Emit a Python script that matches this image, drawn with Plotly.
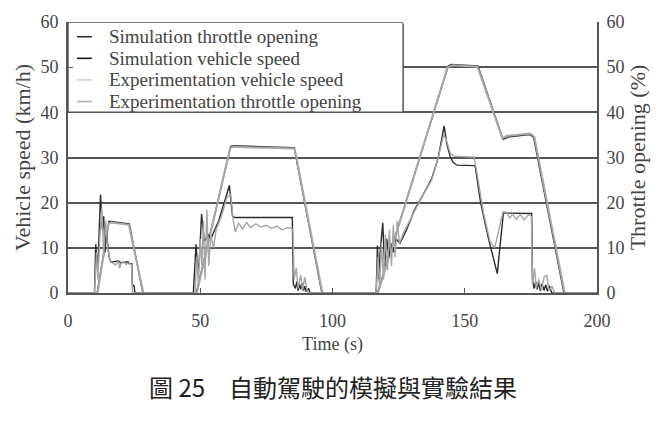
import plotly.graph_objects as go

# ---------------- data ----------------
sim_speed_t = [0, 11, 15.5, 23.2, 28.3, 48.5, 61.5, 62.5, 85.5, 96, 117, 143.8, 145, 155, 164.5,
               167, 174.5, 176, 187.5, 200]
sim_speed_v = [0, 0, 15.9, 15.3, 0, 0, 32.4, 32.6, 32.2, 0, 0, 50.3, 50.6, 50.3, 34,
               34.6, 35.1, 34.5, 0, 0]

exp_speed_t = [0, 11.2, 15.3, 16.5, 23.0, 28.5, 48.7, 61.3, 62.6, 70, 85.7, 96.2, 117.2, 143.5,
               145.5, 154.8, 164.2, 166, 174.8, 176.3, 187.8, 200]
exp_speed_v = [0, 0, 15.3, 15.6, 15.1, 0, 0, 32.1, 32.4, 32.2, 32.0, 0, 0, 50.0,
               50.4, 50.1, 34.3, 34.8, 35.3, 34.6, 0, 0]

sim_thr_t = [0, 10, 10.5, 11, 11.5, 12.3, 13, 13.5, 14, 14.5, 15.5, 16.3, 19, 20, 22.8, 23, 24.1,
             24.3, 25.0, 25.3, 47.4, 48.4, 49.2, 49.8, 50.5, 51.5, 52.2, 53, 54, 57, 61, 62.2,
             63, 84.8, 85.2, 86, 86.5, 87, 87.5, 88, 88.5, 89, 89.5, 90, 91, 91.5, 116.5, 117,
             117.5, 118, 119, 119.7, 120.5, 121.3, 122, 123, 124, 125.5, 128, 131, 134, 137.5,
             140, 142.2, 143.2, 144.4, 145.5, 147, 153.9, 154.5, 156, 159, 162.3, 164.6, 175.3,
             175.6, 176.2, 176.8, 177.3, 178, 178.6, 179.2, 180, 180.6, 181.3, 182, 182.9, 200]
sim_thr_v = [0, 0, 10.8, 6, 9, 21.8, 14, 17, 9, 14, 8, 6.8, 7.1, 6.7, 6.9, 6.5, 6.5,
             1.8, 1.6, 0, 0, 10.8, 4, 9, 17.5, 11.5, 12, 13, 12, 16, 23.8, 17,
             16.7, 16.7, 2, 1, 2.5, 0.5, 2, 0.8, 2.2, 0.5, 1.5, 0.3, 1.0, 0, 0, 10.5,
             3, 9, 15.5, 6, 12, 8, 11, 9, 12, 11, 14, 18.4, 21.5, 25.3,
             30, 37, 33, 30.4, 29, 28.3, 28.2, 26, 20, 12, 4.3, 17.7, 17.6,
             3, 1, 2.5, 0.8, 2.2, 0.5, 2, 0.6, 1.8, 0.4, 1.6, 0, 0]

exp_thr_t = [0, 10, 10.8, 11.3, 12, 12.8, 13.5, 14.2, 15, 15.8, 16.5, 18, 19, 19.5, 20, 21, 22,
             23, 24, 24.4, 48, 48.7, 49.3, 50, 50.6, 51.2, 51.8, 52.5, 53.2, 54, 55, 56, 58, 60,
             61.5, 62.5, 63.3, 64.5, 66, 67.5, 69, 71, 73, 75, 77, 79, 81, 83, 85, 85.5, 86.3, 87,
             88, 88.7, 89.5, 90.5, 91, 116.5, 117.2, 117.8, 118.5, 119.3, 120, 120.8, 121.5,
             122.3, 123, 123.7, 124.5, 125.3, 127, 130, 134, 137.5, 140, 142, 143, 144.5, 146,
             153.5, 154.5, 157, 159.5, 161.3, 163, 164.5, 166, 167, 168, 169.5, 171, 172.5, 174,
             175.2, 175.6, 176.4, 177, 178, 179, 180, 181, 181.8, 183, 184, 200]
exp_thr_v = [0, 0, 9, 3, 12, 19, 8, 16, 10, 7.5, 6.8, 6.2, 7, 5.5, 6.5, 7, 6.3,
             6.8, 6.2, 0, 0, 8, 2, 12, 6, 16, 3, 18.5, 6, 13, 10, 14, 17, 21,
             22, 16, 13.5, 15.5, 14.2, 15.6, 14.5, 15.3, 14.6, 15, 14.3, 14.8, 14, 14.5, 14.2, 3, 5.5, 1,
             4, 0.5, 3.5, 0.3, 0, 0, 8, 1, 11, 3, 13, 5, 14,
             6, 15, 8, 16, 11, 13.5, 17, 21.5, 25, 30, 35, 34, 31, 30.3,
             30.1, 27, 18, 11.5, 10, 14, 18, 17.8, 16.5, 17.5, 16.3, 17.4, 16.2, 17.3,
             17, 2, 5.5, 1, 3, 0.5, 3.5, 4, 0.5, 1.5, 0, 0]

x_ticks = [0, 50, 100, 150, 200]
y_ticks = [0, 10, 20, 30, 40, 50, 60]

series_names = ["Simulation throttle opening", "Simulation vehicle speed",
                "Experimentation vehicle speed", "Experimentation throttle opening"]
series_colors = ["#2b2b2b", "#1a1a1a", "#d2d2d2", "#b0b0b0"]
caption = "圖 25　自動駕駛的模擬與實驗結果"

# ---------------- figure ----------------
SERIF = "Liberation Serif"
TXT = "#444444"
AX = "#555555"

fig = go.Figure()
fig.add_trace(go.Scatter(x=sim_thr_t, y=sim_thr_v, name=series_names[0], mode="lines",
                         line=dict(color=series_colors[0], width=1.4), yaxis="y2"))
fig.add_trace(go.Scatter(x=sim_speed_t, y=sim_speed_v, name=series_names[1], mode="lines",
                         line=dict(color="#333333", width=1.4)))
fig.add_trace(go.Scatter(x=exp_speed_t, y=exp_speed_v, name=series_names[2], mode="lines",
                         line=dict(color="#a8a8a8", width=2.0)))
fig.add_trace(go.Scatter(x=exp_thr_t, y=exp_thr_v, name=series_names[3], mode="lines",
                         line=dict(color="#a6a6a6", width=1.4), yaxis="y2"))

axis_common = dict(range=[0, 60], tickvals=y_ticks, ticks="inside", ticklen=5,
                   tickcolor=AX, showline=True, linecolor=AX, linewidth=2,
                   zeroline=False, ticklabelstandoff=4,
                   tickfont=dict(family=SERIF, size=18, color=TXT))

# hand-drawn legend (tighter line spacing than Plotly's own legend allows)
legend_rows_px = [32, 54, 76, 98]
shapes = [dict(type="rect", xref="x", yref="y", x0=0, x1=126.7, y0=40, y1=60,
               fillcolor="white", line=dict(color=AX, width=1.5), layer="between"),
          dict(type="line", xref="x", yref="y", x0=126.7, x1=200, y0=60, y1=60,
               line=dict(color="white", width=3), layer="between")]
annotations = []
for name, col, py in zip(series_names, series_colors, legend_rows_px):
    yp = (293 - py) / 276.0
    shapes.append(dict(type="line", xref="paper", yref="paper", x0=0.017, x1=0.045,
                       y0=yp, y1=yp, line=dict(color=col, width=1.6)))
    annotations.append(dict(text=name, xref="paper", yref="paper", x=0.0737, y=yp,
                            xanchor="left", yanchor="middle", showarrow=False,
                            font=dict(family=SERIF, size=19, color=TXT)))

annotations.append(dict(text=caption, xref="paper", yref="paper", x=0.5, y=-0.344,
                        xanchor="center", yanchor="middle", showarrow=False,
                        font=dict(family="Noto Sans CJK TC", size=24, color="#222222")))

fig.update_layout(
    width=663, height=436,
    margin=dict(l=68, r=66, t=17, b=143),
    paper_bgcolor="white", plot_bgcolor="white",
    font=dict(family=SERIF, size=18, color=TXT),
    showlegend=False,
    xaxis=dict(range=[0, 200], tickvals=x_ticks, ticks="inside", ticklen=5, tickcolor=AX,
               showline=True, linecolor=AX, linewidth=2, showgrid=False, zeroline=False,
               ticklabelstandoff=10,
               tickfont=dict(family=SERIF, size=18, color=TXT),
               title=dict(text="Time (s)", font=dict(family=SERIF, size=18, color=TXT),
                          standoff=8)),
    yaxis=dict(**axis_common, showgrid=True, gridcolor=AX, gridwidth=2,
               title=dict(text="Vehicle speed (km/h)",
                          font=dict(family=SERIF, size=22, color=TXT), standoff=4)),
    yaxis2=dict(**axis_common, overlaying="y", side="right", showgrid=False,
                title=dict(text="Throttle opening (%)",
                           font=dict(family=SERIF, size=22, color=TXT), standoff=4)),
    shapes=shapes,
    annotations=annotations,
)

fig.write_html("out.html")
